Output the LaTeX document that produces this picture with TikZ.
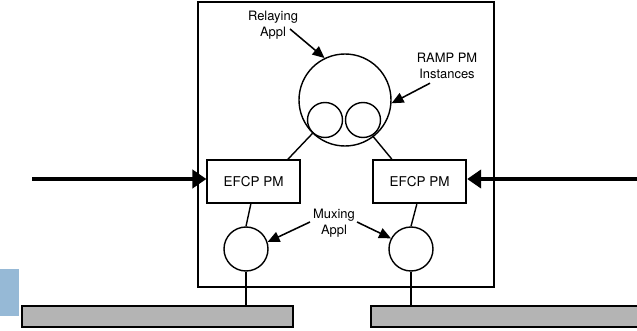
\documentclass[tikz,border=0pt]{standalone}
\usepackage{fontspec}
\setmainfont{TeX Gyre Heros}
\usetikzlibrary{arrows.meta}
\definecolor{barGray}{RGB}{180,180,180}
\definecolor{tabBlue}{RGB}{150,185,214}

\begin{document}
\begin{tikzpicture}[line width=1pt,
  box/.style={draw,rectangle,minimum width=2.325cm,minimum height=1.075cm,inner sep=0pt,font=\fontsize{9.6}{11}\selectfont},
  ring/.style={draw,circle,inner sep=0pt},
  bar/.style={draw,line width=1.3pt,fill=barGray,rectangle,minimum height=0.525cm,inner sep=0pt},
  lbl/.style={align=center,inner sep=0pt,font=\fontsize{9.2}{11.4}\selectfont},
  feed/.style={line width=3pt,-{Triangle[length=10pt,width=13pt]}},
  ptr/.style={line width=1.1pt,-{Triangle[length=8.5pt,width=7.5pt]}}]
\useasboundingbox (0,0) rectangle (15.925,8.25);
\clip (0,0) rectangle (15.925,8.25);
% side tab
\fill[tabBlue] (0,0.35) rectangle (0.475,1.525);
% ================= DIF box =================
\draw (4.95,1.075) rectangle (12.35,8.20);
% relaying appl with RAMP PM instances
\node[ring,minimum size=2.3cm] (relay) at (8.625,5.75) {};
\node[ring,minimum size=0.875cm] (rampA) at (8.125,5.25) {};
\node[ring,minimum size=0.875cm] (rampB) at (9.075,5.25) {};
% EFCP PMs
\node[box] (efcpL) at (6.34,3.71) {EFCP PM};
\node[box,line width=1.5pt] (efcpR) at (10.49,3.71) {EFCP PM};
% muxing appls
\node[ring,minimum size=1.1cm] (muxL) at (6.15,2.025) {};
\node[ring,minimum size=1.1cm] (muxR) at (10.275,2.025) {};
\draw (rampA.227) -- (efcpL.33);
\draw (rampB.301) -- (efcpR.141);
\draw (efcpL.263) -- (muxL.north);
\draw (efcpR.263) -- (muxR.north);
% ================= lower segments =================
\node[bar,minimum width=6.775cm] (barL) at (3.9375,0.3375) {};
\node[bar,minimum width=7.25cm] (barR) at (12.9,0.3375) {};
\draw (muxL.south) -- (muxL.south |- barL.north);
\draw (muxR.south) -- (muxR.south |- barR.north);
% incoming flows
\coordinate (inL) at (0.8,3.775);
\coordinate (inR) at (16.1,3.775);
\draw[feed] (inL) -- (inL -| efcpL.west);
\draw[feed] (inR) -- (inR -| efcpR.east);
% ================= labels =================
\node[lbl] (relayLbl) at (6.825,7.625) {Relaying\\Appl};
\draw[ptr] ([xshift=0.425cm,yshift=-0.1cm]relayLbl.center) -- (relay.116);
\node[lbl] (rampLbl) at (11.175,6.61) {RAMP PM\\Instances};
\draw[ptr] ([xshift=-0.425cm,yshift=-0.44cm]rampLbl.center) -- (relay.-4);
\node[lbl] (muxLbl) at (8.35,2.675) {Muxing\\Appl};
\draw[ptr] ([xshift=-0.6cm,yshift=0.025cm]muxLbl.center) -- (muxL.18);
\draw[ptr] ([xshift=0.575cm,yshift=0.025cm]muxLbl.center) -- (muxR.152);
\end{tikzpicture}
\end{document}
